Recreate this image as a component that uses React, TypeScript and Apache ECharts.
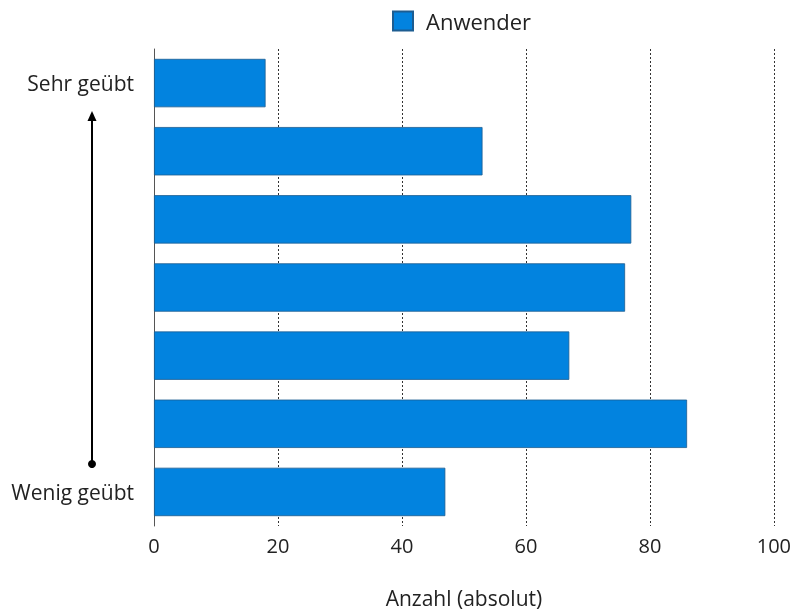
import React, { useEffect, useRef } from "react";
import * as echarts from "echarts";

// Categories from bottom (least practiced) to top (most practiced)
const categories: string[] = ["Wenig geübt", "", "", "", "", "", "Sehr geübt"];
const anwender: number[] = [47, 86, 67, 76, 77, 53, 18];
const xTicks: number[] = [0, 20, 40, 60, 80, 100];

const seriesName = "Anwender";
const xAxisName = "Anzahl (absolut)";
const FONT = "'Open Sans', sans-serif";

export default function App() {
  const ref = useRef<HTMLDivElement>(null);

  useEffect(() => {
    if (!ref.current) return;
    const chart = echarts.init(ref.current, undefined, { renderer: "svg" });
    chart.setOption({
      animation: false,
      textStyle: { fontFamily: FONT },
      legend: {
        data: [seriesName],
        top: 5,
        left: 387,
        itemWidth: 20,
        itemHeight: 19,
        textStyle: { fontSize: 22, color: "#222", fontFamily: FONT, padding: [0, 0, 0, 8] },
        icon: "rect",
      },
      grid: { left: 154, right: 20, top: 49, bottom: 83, containLabel: false },
      xAxis: {
        type: "value",
        min: xTicks[0],
        max: xTicks[xTicks.length - 1],
        interval: 20,
        name: xAxisName,
        nameLocation: "middle",
        nameGap: 61,
        nameTextStyle: { fontSize: 21, color: "#222", fontFamily: FONT },
        axisLine: { show: false },
        axisTick: { show: false },
        axisLabel: { fontSize: 20, color: "#222", margin: 9, fontFamily: FONT },
        splitLine: {
          show: true,
          lineStyle: { type: [2, 2], color: "#333", width: 1 },
        },
      },
      yAxis: {
        type: "category",
        data: categories,
        axisLine: { show: true, lineStyle: { color: "#555", width: 1 } },
        axisTick: { show: false },
        axisLabel: { fontSize: 21, color: "#222", margin: 20, fontFamily: FONT },
        splitLine: { show: false },
      },
      series: [
        {
          name: seriesName,
          type: "bar",
          data: anwender,
          barCategoryGap: "29%",
          itemStyle: { color: "#0283df", borderColor: "#1d5d91", borderWidth: 0.8 },
        },
      ],
      graphic: [
        {
          type: "line",
          shape: { x1: 92, y1: 120, x2: 92, y2: 464 },
          style: { stroke: "#000", lineWidth: 2 },
        },
        {
          type: "polygon",
          shape: { points: [[92, 111], [87.5, 121], [96.5, 121]] },
          style: { fill: "#000" },
        },
        {
          type: "circle",
          shape: { cx: 92, cy: 464, r: 4 },
          style: { fill: "#000" },
        },
      ],
    });
    return () => chart.dispose();
  }, []);

  return (
    <div
      ref={ref}
      style={{ position: "fixed", left: 0, top: 0, width: 794, height: 613 }}
    />
  );
}
